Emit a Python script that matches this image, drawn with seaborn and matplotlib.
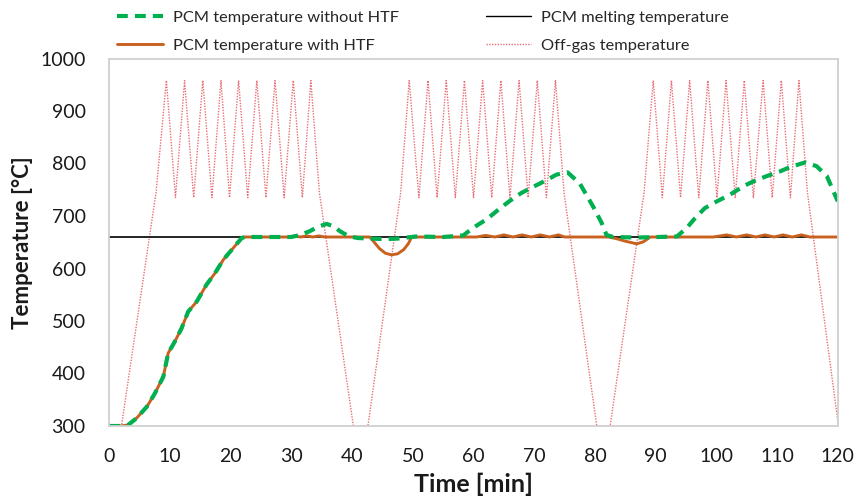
import matplotlib
matplotlib.use("Agg")
import matplotlib.pyplot as plt
import seaborn as sns
from matplotlib.lines import Line2D

# Off-gas temperature profile (three charging cycles)
offgas_time = [0, 2.0, 7.7, 9.4, 10.9, 12.4, 13.9, 15.4, 16.9, 18.4, 19.8, 21.3, 22.8, 24.3,
               25.8, 27.3, 28.8, 30.3, 31.8, 33.2, 34.6, 40.2,
               42.6, 48.0, 49.4, 51.0, 52.5, 54.0, 55.5, 57.0, 58.5, 60.0, 61.5, 63.0, 64.5,
               66.0, 67.5, 69.0, 70.5, 72.0, 73.5, 74.9, 80.3,
               82.5, 88.1, 89.6, 91.1, 92.6, 94.1, 95.6, 97.1, 98.6, 100.1, 101.6, 103.1,
               104.6, 106.1, 107.7, 109.2, 110.7, 112.2, 113.6, 115.0, 120.0]
offgas_temp = [300, 300, 745, 958, 735, 958, 735, 958, 735, 958, 735, 958, 735, 958,
               735, 958, 735, 958, 735, 958, 745, 300,
               300, 745, 958, 735, 958, 735, 958, 735, 958, 735, 958, 735, 958,
               735, 958, 735, 958, 735, 958, 745, 300,
               300, 745, 958, 735, 958, 735, 958, 735, 958, 735, 958, 735,
               958, 735, 958, 735, 958, 735, 958, 745, 310]

# PCM temperature with heat transfer fluid
htf_time = [0, 1.9, 3.1, 4.5, 6.2, 7.5, 8.9, 9.7, 10.8, 11.9, 13.0, 14.4, 16.0, 17.4, 18.8,
            20.2, 21.8, 22.3, 29.5, 30.5, 31.5, 32.5, 33.5, 34.5, 35.5, 42.9, 43.5, 44.5,
            45.5, 46.5, 47.5, 48.5, 49.3, 49.8, 60.5, 62.0, 63.5, 65.0, 66.5, 68.0, 69.5,
            71.0, 72.5, 74.0, 75.0, 82.2, 83.5, 85.0, 86.9, 88.0, 89.1, 99.5, 101.7, 103.3,
            105.0, 106.5, 108.0, 109.5, 111.0, 112.5, 114.0, 115.4, 120.0]
htf_temp = [300, 300, 302, 315, 337, 362, 394, 439, 461, 486, 518, 537, 569, 591, 617,
            636, 658, 660, 660, 662, 660, 662, 660, 662, 660, 660, 652, 638,
            629, 626, 628, 636, 648, 660, 660, 663, 660, 664, 660, 664, 660,
            664, 660, 664, 660, 660, 657, 652, 647, 651, 660, 660, 664, 660,
            664, 660, 664, 660, 664, 660, 664, 660, 660]

# PCM temperature without heat transfer fluid
nohtf_time = [0, 1.9, 3.1, 4.5, 6.2, 7.5, 8.9, 9.7, 10.8, 11.9, 13.0, 14.4, 16.0, 17.4, 18.8,
              20.2, 21.8, 22.3, 30.0, 31.5, 33.0, 34.5, 35.8, 37.0, 38.0, 39.5, 41.0, 43.0,
              45.5, 47.5, 49.0, 50.5, 55.0, 58.3, 60.0, 62.2, 64.4, 66.0, 67.9, 69.9, 71.8,
              73.7, 75.5, 77.5, 79.7, 81.1, 81.9, 83.0, 87.0, 93.5, 95.1, 96.5, 98.1, 100.1,
              102.3, 104.5, 106.1, 108.3, 110.5, 112.1, 114.6, 116.5, 118.2, 120.0]
nohtf_temp = [300, 300, 302, 315, 337, 362, 394, 439, 461, 486, 518, 537, 569, 591, 617,
              636, 658, 660, 660, 664, 671, 680, 685, 680, 671, 661, 658, 657,
              656, 657, 659, 661, 660, 663, 678, 694, 715, 729, 744, 756, 767,
              779, 783, 762, 718, 687, 664, 660, 659, 661, 677, 696, 715, 728,
              741, 757, 766, 776, 785, 793, 802, 795, 776, 728]

# PCM melting temperature
melt_time = [0, 120]
melt_temp = [660, 660]

x_ticks = list(range(0, 121, 10))
y_ticks = list(range(300, 1001, 100))

sns.set_style("white")
plt.rcParams["font.family"] = ["Lato", "DejaVu Sans"]

fig = plt.figure(figsize=(8.56, 5.00), dpi=100)
ax = fig.add_axes([0.1277, 0.148, 0.8510, 0.735])

green = "#00b050"
orange = "#c8601e"
red = "#e0303a"
grey = "#d0d0d0"
text_col = "#1a1a1a"
green_dash = (0, (2.6, 1.7))
red_dot = (0, (1, 1))

sns.lineplot(x=offgas_time, y=offgas_temp, ax=ax, color=red, lw=1.0, alpha=0.7,
             linestyle=red_dot, estimator=None, sort=False)
sns.lineplot(x=melt_time, y=melt_temp, ax=ax, color="black", lw=1.2,
             estimator=None, sort=False)
sns.lineplot(x=htf_time, y=htf_temp, ax=ax, color=orange, lw=2.1,
             estimator=None, sort=False)
sns.lineplot(x=nohtf_time, y=nohtf_temp, ax=ax, color=green, lw=3.0,
             linestyle=green_dash, estimator=None, sort=False)

ax.set_xlim(0, 120)
ax.set_ylim(300, 1000)
ax.set_xticks(x_ticks)
ax.set_yticks(y_ticks)
ax.tick_params(axis="both", direction="out", length=5, width=1.2, color=grey,
               labelsize=14, labelcolor=text_col)
ax.tick_params(axis="x", pad=11)
ax.tick_params(axis="y", pad=12)
for side in ["left", "right", "top", "bottom"]:
    ax.spines[side].set_visible(True)
    ax.spines[side].set_color(grey)
    ax.spines[side].set_linewidth(1.3)
ax.grid(False)

ax.set_xlabel("Time [min]", fontsize=18, fontweight="bold", color=text_col, labelpad=5)
ax.set_ylabel("Temperature [°C]", fontsize=16, fontweight="bold", color=text_col, labelpad=5)

handles = [
    Line2D([], [], color=green, lw=3.0, linestyle=green_dash),
    Line2D([], [], color=orange, lw=2.1),
    Line2D([], [], color="black", lw=1.0),
    Line2D([], [], color=red, lw=1.0, alpha=0.7, linestyle=red_dot),
]
labels = ["PCM temperature without HTF", "PCM temperature with HTF",
          "PCM melting temperature", "Off-gas temperature"]
fig.legend(handles, labels, ncol=2, loc="upper left", bbox_to_anchor=(0.1367, 0.979),
           frameon=False, fontsize=11.8, handlelength=2.8, handletextpad=0.6,
           columnspacing=5.3, labelspacing=0.8, borderpad=0.0, borderaxespad=0.0)

fig.savefig("out.png", dpi=100)
